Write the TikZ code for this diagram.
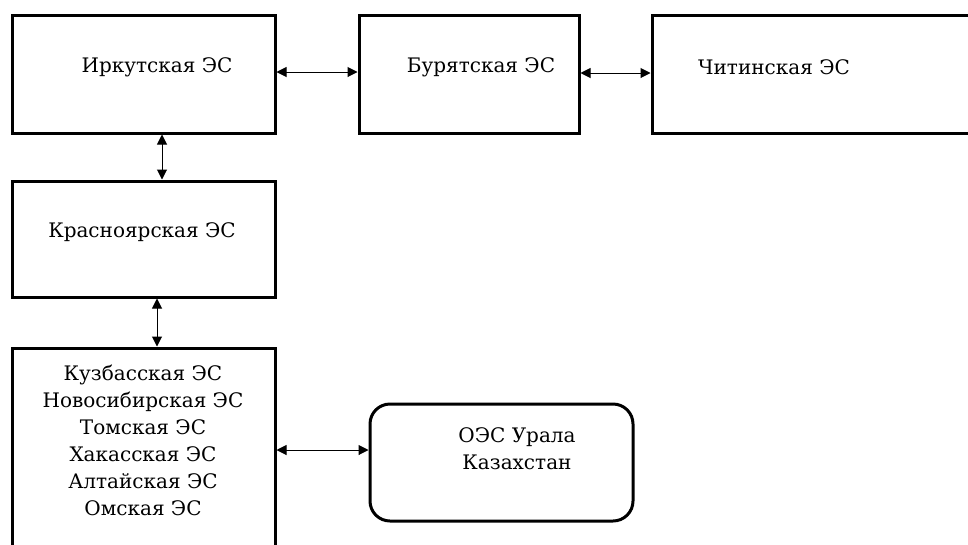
\documentclass[tikz,border=0pt]{standalone}
\usepackage{fontspec}
\setmainfont{DejaVu Serif}
\usetikzlibrary{arrows.meta}
\begin{document}
\begin{tikzpicture}[x=1pt,y=-1pt,
  box/.style={draw=black,line width=3pt,inner sep=0pt},
  lbl/.style={inner sep=0pt,font=\fontsize{20}{27}\selectfont,align=center,anchor=center},
  arr/.style={line width=1pt,{Triangle[length=10pt,width=10pt]}-{Triangle[length=10pt,width=10pt]}}]
\useasboundingbox (0,0) rectangle (968,544);
\clip (0,0) rectangle (968,544);
\fill[white] (0,0) rectangle (968,544);
% boxes
\node[box,minimum width=263pt,minimum height=118pt] (irk) at (143.5,74) {};
\node[box,minimum width=220pt,minimum height=118pt] (bur) at (469,74) {};
\node[box,minimum width=340pt,minimum height=118pt] (chi) at (822,74) {};
\node[box,minimum width=263pt,minimum height=116pt] (kra) at (143.5,239) {};
\node[box,minimum width=263pt,minimum height=252pt] (sib) at (143.5,474) {};
\node[box,rounded corners=20pt,minimum width=263pt,minimum height=117pt] (ural) at (501.5,462.5) {};
% labels
\node[lbl] (tirk) at (157,67) {Иркутская ЭС};
\node[lbl] (tbur) at (481,67) {Бурятская ЭС};
\node[lbl] (tchi) at (774,67) {Читинская ЭС};
\node[lbl] (tkra) at (142,232) {Красноярская ЭС};
\node[lbl] (tsib) at (143,440) {Кузбасская ЭС\\Новосибирская ЭС\\Томская ЭС\\Хакасская ЭС\\Алтайская ЭС\\Омская ЭС};
\node[lbl] (tural) at (517,448.5) {ОЭС Урала\\Казахстан};
% connectors
\draw[arr] ([yshift=2pt]irk.east) -- ([yshift=2pt]bur.west);
\draw[arr] ([yshift=1pt]bur.east) -- ([yshift=1pt]chi.west);
\draw[arr] ([xshift=18.5pt]irk.south) -- ([xshift=18.5pt]kra.north);
\draw[arr] ([xshift=13.5pt]kra.south) -- ([xshift=13.5pt]sib.north);
\draw[arr] ([yshift=24pt]sib.east) -- ([yshift=12.5pt]ural.west);
\end{tikzpicture}
\end{document}
